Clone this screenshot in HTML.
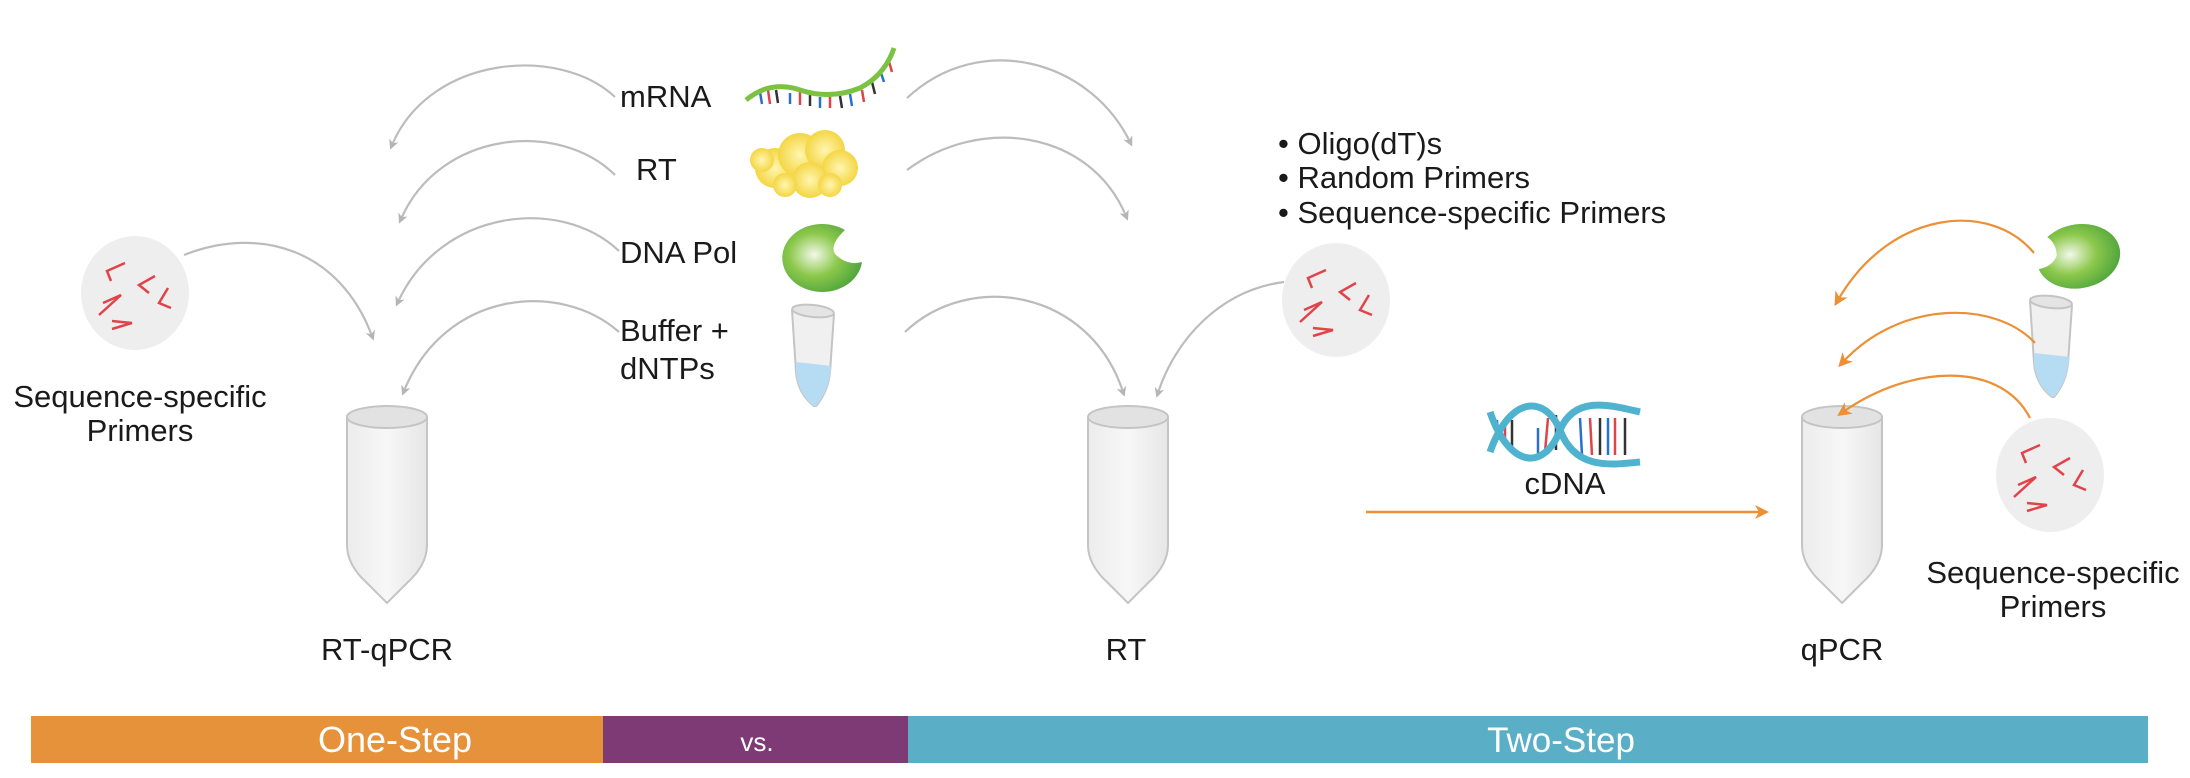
<!DOCTYPE html>
<html><head><meta charset="utf-8"><style>
html,body{margin:0;padding:0;background:#fff;}
svg{display:block;}
text{font-family:"Liberation Sans",Arial,sans-serif;fill:#1a1a1a;}
</style></head><body>
<svg width="2190" height="778" viewBox="0 0 2190 778" xmlns="http://www.w3.org/2000/svg">
<defs>
<marker id="ag" markerWidth="10" markerHeight="10" refX="5" refY="5" orient="auto" markerUnits="userSpaceOnUse" viewBox="0 0 10 10">
<path d="M0,0 L10,5 L0,10 L3,5z" fill="#b5b5b5"/></marker>
<marker id="ao" markerWidth="14" markerHeight="14" refX="7" refY="7" orient="auto" markerUnits="userSpaceOnUse" viewBox="0 0 14 14">
<path d="M0,0 L14,7 L0,14 L4,7z" fill="#ec8f35"/></marker>
<linearGradient id="tube" x1="0" x2="1"><stop offset="0" stop-color="#ececec"/><stop offset="0.5" stop-color="#f7f7f7"/><stop offset="1" stop-color="#e6e6e6"/></linearGradient>
<radialGradient id="green" cx="0.4" cy="0.45" r="0.7"><stop offset="0" stop-color="#f2f8e8"/><stop offset="0.45" stop-color="#8cc84b"/><stop offset="1" stop-color="#3f9b3a"/></radialGradient>
<radialGradient id="yel" cx="0.5" cy="0.5" r="0.6"><stop offset="0" stop-color="#fff6b0"/><stop offset="1" stop-color="#f2cf2e"/></radialGradient>
<g id="bigtube">
<path d="M0,12 L0,140 Q0,160 20,178 L40,198 L60,178 Q80,160 80,140 L80,12" fill="url(#tube)" stroke="#c4c4c4" stroke-width="2"/>
<ellipse cx="40" cy="12" rx="40" ry="11" fill="#e2e2e2" stroke="#c4c4c4" stroke-width="2"/>
</g>
<g id="smtube">
<path d="M0,8 L4,70 Q6,92 22,104 L24,104 Q36,90 38,70 L42,12" fill="#f0f0f0" stroke="#c4c4c4" stroke-width="2"/>
<path d="M4,60 L40,64 L38,72 Q36,90 24,104 L22,104 Q6,92 4,70z" fill="#b5dcf3"/>
<ellipse cx="21" cy="9" rx="21" ry="6" transform="rotate(6 21 9)" fill="#e4e4e4" stroke="#c4c4c4" stroke-width="2"/>
</g>
<g id="primers">
<ellipse cx="0" cy="0" rx="54" ry="57" fill="#eeeeee"/>
<g stroke="#e0444a" stroke-width="2.5" fill="none">
<path d="M-10,-30 L-28,-22 L-24,-12"/><path d="M20,-17 L4,-8 L14,0"/><path d="M33,-5 L24,10 L36,15"/>
<path d="M-32,10 L-14,2 L-36,22"/><path d="M-23,28 L-3,30 L-23,36"/>
</g></g>
</defs>

<!-- bottom bar -->
<rect x="31" y="716" width="573" height="47" fill="#e6923b"/>
<rect x="603" y="716" width="306" height="47" fill="#7e3a75"/>
<rect x="908" y="716" width="1240" height="47" fill="#5aafc6"/>
<text x="395" y="752" font-size="36" text-anchor="middle" style="fill:#fff">One-Step</text>
<text x="757" y="751" font-size="26" text-anchor="middle" style="fill:#fff">vs.</text>
<text x="1561" y="752" font-size="35" text-anchor="middle" style="fill:#fff">Two-Step</text>

<!-- tubes -->
<use href="#bigtube" x="347" y="405"/>
<use href="#bigtube" x="1088" y="405"/>
<use href="#bigtube" x="1802" y="405"/>
<text x="387" y="660" font-size="31" text-anchor="middle">RT-qPCR</text>
<text x="1126" y="660" font-size="31" text-anchor="middle">RT</text>
<text x="1842" y="660" font-size="31" text-anchor="middle">qPCR</text>

<!-- reagent labels -->
<text x="620" y="107" font-size="31">mRNA</text>
<text x="636" y="180" font-size="31">RT</text>
<text x="620" y="263" font-size="31">DNA Pol</text>
<text x="620" y="341" font-size="31">Buffer +</text>
<text x="620" y="379" font-size="31">dNTPs</text>

<!-- mRNA icon -->
<g stroke-width="2.5">
<g stroke="#2a6fd0"><line x1="760" y1="92" x2="762" y2="104"/><line x1="790" y1="93" x2="790" y2="104"/><line x1="820" y1="97" x2="820" y2="108"/><line x1="850" y1="94" x2="852" y2="106"/><line x1="880" y1="70" x2="884" y2="82"/></g>
<g stroke="#e0444a"><line x1="768" y1="90" x2="770" y2="104"/><line x1="800" y1="92" x2="800" y2="105"/><line x1="830" y1="96" x2="830" y2="108"/><line x1="862" y1="90" x2="864" y2="102"/><line x1="888" y1="58" x2="892" y2="72"/></g>
<g stroke="#333"><line x1="776" y1="90" x2="778" y2="103"/><line x1="810" y1="94" x2="810" y2="106"/><line x1="840" y1="96" x2="842" y2="108"/><line x1="872" y1="82" x2="875" y2="94"/></g>
</g>
<path d="M746,100 Q770,80 800,90 Q830,100 860,88 Q885,75 894,48" fill="none" stroke="#7cc242" stroke-width="5"/>

<!-- RT blob -->
<g fill="url(#yel)">
<circle cx="775" cy="168" r="20"/><circle cx="800" cy="155" r="22"/><circle cx="825" cy="150" r="20"/><circle cx="840" cy="168" r="18"/>
<circle cx="810" cy="180" r="18"/><circle cx="785" cy="185" r="12"/><circle cx="830" cy="185" r="12"/><circle cx="762" cy="160" r="12"/>
</g>

<!-- DNA Pol left -->
<path d="M845,230 A40,34 0 1 0 862,262 Q848,266 836,255 Q828,246 845,230z" fill="url(#green)"/>
<use href="#smtube" x="792" y="302"/>

<!-- primers -->
<use href="#primers" x="135" y="293"/>
<text x="140" y="407" font-size="31" text-anchor="middle">Sequence-specific</text>
<text x="140" y="441" font-size="31" text-anchor="middle">Primers</text>
<use href="#primers" x="1336" y="300"/>

<!-- bullets -->
<text x="1278" y="154" font-size="31">• Oligo(dT)s</text>
<text x="1278" y="188" font-size="31">• Random Primers</text>
<text x="1278" y="223" font-size="31">• Sequence-specific Primers</text>

<!-- gray arcs -->
<g fill="none" stroke="#bcbcbc" stroke-width="2.2" marker-end="url(#ag)">
<path d="M615,97 C560,45 430,55 392,145"/>
<path d="M615,175 C560,120 440,130 401,219"/>
<path d="M619,251 C560,195 440,210 398,302"/>
<path d="M619,332 C560,280 445,290 404,391"/>
<path d="M184,255 C260,225 340,250 372,336"/>
<path d="M907,98 C980,30 1090,60 1130,142"/>
<path d="M907,170 C980,115 1090,130 1126,216"/>
<path d="M905,332 C970,270 1090,290 1123,392"/>
<path d="M1284,282 C1220,290 1175,340 1158,393"/>
</g>

<!-- cDNA helix -->
<g fill="none" stroke-width="2.5">
<g stroke="#e0444a"><line x1="1505" y1="420" x2="1505" y2="445"/><line x1="1548" y1="418" x2="1545" y2="452"/><line x1="1590" y1="418" x2="1592" y2="455"/><line x1="1615" y1="418" x2="1615" y2="455"/></g>
<g stroke="#333"><line x1="1512" y1="420" x2="1512" y2="447"/><line x1="1556" y1="415" x2="1556" y2="450"/><line x1="1600" y1="418" x2="1600" y2="455"/><line x1="1625" y1="418" x2="1625" y2="455"/></g>
<g stroke="#2a6fd0"><line x1="1497" y1="420" x2="1498" y2="440"/><line x1="1538" y1="428" x2="1538" y2="455"/><line x1="1580" y1="418" x2="1582" y2="455"/><line x1="1608" y1="418" x2="1608" y2="455"/></g>
<path d="M1490,412 C1510,470 1545,470 1560,430 C1575,395 1610,405 1640,412" stroke="#4fb3cf" stroke-width="7"/>
<path d="M1490,452 C1510,395 1545,395 1560,430 C1575,470 1610,465 1640,462" stroke="#4fb3cf" stroke-width="7"/>
</g>
<text x="1565" y="494" font-size="31" text-anchor="middle">cDNA</text>
<line x1="1366" y1="512" x2="1762" y2="512" stroke="#ec8f35" stroke-width="2.5" marker-end="url(#ao)"/>

<!-- right reagents -->
<path d="M2050,232 A42,32 0 1 1 2036,262 Q2050,262 2056,252 Q2058,240 2050,232z" fill="url(#green)" transform="rotate(-10 2078 250)"/>
<use href="#smtube" x="2030" y="293"/>
<use href="#primers" x="2050" y="475"/>
<text x="2053" y="583" font-size="31" text-anchor="middle">Sequence-specific</text>
<text x="2053" y="617" font-size="31" text-anchor="middle">Primers</text>

<g fill="none" stroke="#ec8f35" stroke-width="2.2" marker-end="url(#ao)">
<path d="M2034,253 C1990,200 1890,210 1838,300"/>
<path d="M2035,343 C1995,300 1900,300 1843,362"/>
<path d="M2030,418 C2000,360 1910,365 1843,412"/>
</g>
</svg>
</body></html>
